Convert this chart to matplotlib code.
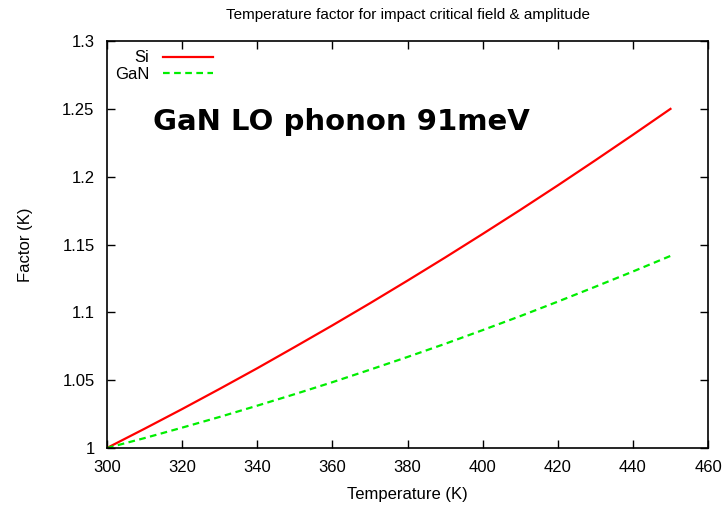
import numpy as np
import matplotlib.pyplot as plt
from matplotlib.ticker import FuncFormatter

plt.rcParams['font.family'] = ['Liberation Sans', 'DejaVu Sans']

temperature = [300, 310, 320, 330, 340, 350, 360, 370, 380, 390, 400, 410, 420, 430, 440, 450]
si_factor = [1.0, 1.0142, 1.0287, 1.0436, 1.0588, 1.0745, 1.0904, 1.1067, 1.1234,
             1.1404, 1.1578, 1.1755, 1.1936, 1.2121, 1.2309, 1.2500]
gan_factor = [1.0, 1.0073, 1.0150, 1.0229, 1.0312, 1.0397, 1.0485, 1.0577, 1.0671,
              1.0768, 1.0869, 1.0972, 1.1079, 1.1189, 1.1301, 1.1416]

fig = plt.figure(figsize=(7.25, 5.07), dpi=100)
ax = fig.add_axes([0.1476, 0.1164, 0.829, 0.8026])

ax.plot(temperature, si_factor, color='#ff0000', linewidth=1.6, label='Si')
ax.plot(temperature, gan_factor, color='#00ee00', linewidth=1.6, linestyle=(0, (3, 2)), label='GaN')

ax.set_xlim(300, 460)
ax.set_ylim(1.0, 1.3)
ax.set_xticks(np.arange(300, 461, 20))
ax.set_yticks([1.0, 1.05, 1.1, 1.15, 1.2, 1.25, 1.3])
ax.yaxis.set_major_formatter(FuncFormatter(lambda v, p: '%g' % round(v, 2)))
ax.tick_params(direction='in', length=6, width=1, top=True, right=True, labelsize=12, pad=9)
for s in ax.spines.values():
    s.set_linewidth(1.2)

ax.set_xlabel('Temperature (K)', fontsize=12, labelpad=8)
ax.set_ylabel('Factor (K)', fontsize=12, labelpad=21)
ax.set_title('Temperature factor for impact critical field & amplitude', fontsize=11, pad=16)

ax.legend(loc='upper left', bbox_to_anchor=(-0.012, 1.014), frameon=False, markerfirst=False,
          fontsize=12, handlelength=3.0, labelspacing=0.1, borderpad=0.4, handletextpad=0.8)

fig.text(153 / 725, 1 - 122 / 507, 'GaN LO phonon 91meV', fontsize=21, fontweight='bold',
         family='DejaVu Sans', va='center', ha='left')

plt.savefig('out.png', dpi=100)
